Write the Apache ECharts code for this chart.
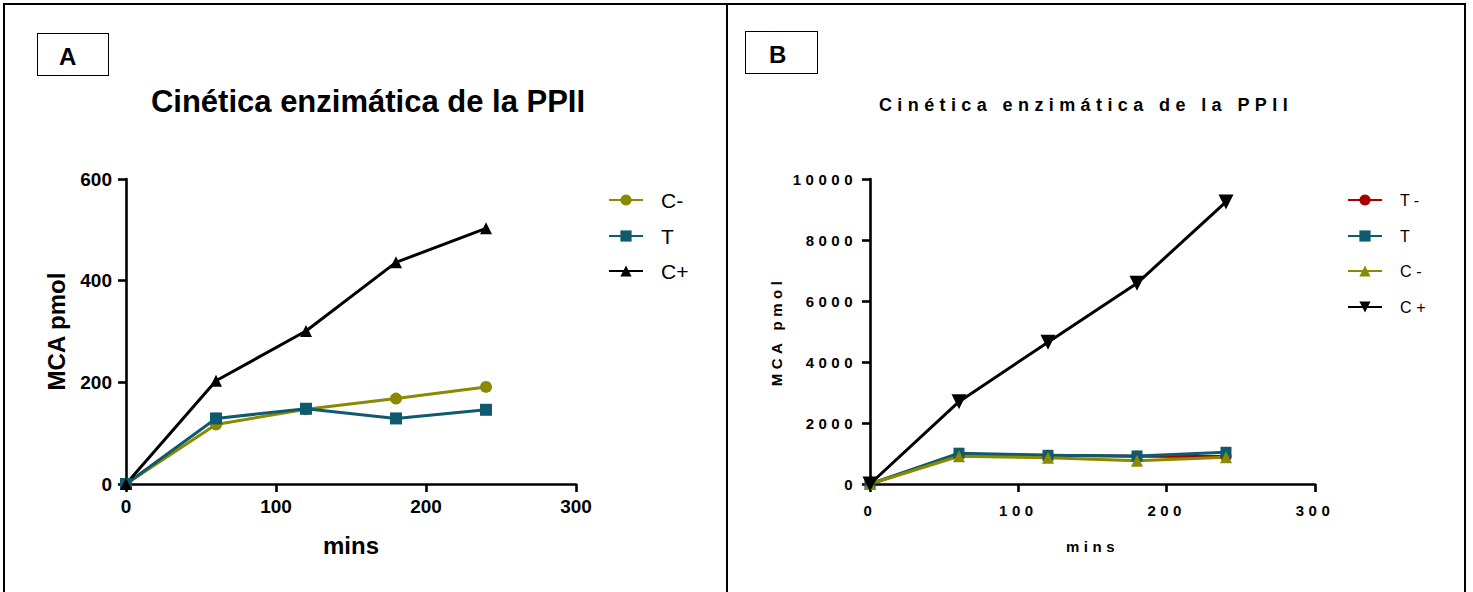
<!DOCTYPE html>
<html>
<head>
<meta charset="utf-8">
<script src="https://cdn.jsdelivr.net/npm/echarts@6/dist/echarts.min.js"></script>
<style>
  html, body { margin: 0; padding: 0; background: #fff; }
  body { width: 1473px; height: 592px; position: relative; overflow: hidden; font-family: "Liberation Sans", Arial, sans-serif; }
  .frame { position: absolute; left: 3px; top: 3px; width: 1463px; height: 620px;
           border: 2px solid #000; box-sizing: border-box; }
  .divider { position: absolute; left: 726px; top: 3px; width: 2px; height: 600px; background: #000; }
  .tag { position: absolute; border: 1.5px solid #000; box-sizing: border-box; background: #fff;
         font-weight: bold; font-size: 24px; line-height: 1; padding: 0; }
  .tag span { position: absolute; left: 21px; top: 11px; }
  #chartA { position: absolute; left: 0; top: 0; width: 727px; height: 592px; }
  #chartB { position: absolute; left: 727px; top: 0; width: 746px; height: 592px; }
  /* panel B text is drawn with wide tracking */
  #chartB text { letter-spacing: 0.3em; }
</style>
</head>
<body>
<div id="chartA"></div>
<div id="chartB"></div>
<div class="frame"></div>
<div class="divider"></div>
<div class="tag" style="left:37px;top:33px;width:72px;height:43px;"><span>A</span></div>
<div class="tag" style="left:745px;top:31px;width:73px;height:43px;"><span style="left:23px;">B</span></div>
<script>
// time points (minutes)
const mins = [0, 60, 120, 180, 240];

// Panel A: MCA pmol
const namesA = ['C-', 'T', 'C+'];
const cNegA = [0, 117, 147, 168, 191];
const tA    = [0, 129, 148, 129, 146];
const cPosA = [0, 203, 301, 436, 503];

// Panel B: MCA pmol
const namesB = ['T-', 'T', 'C-', 'C+'];
const tNegB = [0, 960, 940, 910, 900];
const tB    = [0, 1010, 940, 920, 1040];
const cNegB = [0, 910, 860, 760, 880];
const cPosB = [0, 2700, 4650, 6580, 9250];

const OLIVE = '#8a8a00';
const TEAL = '#0f5a6e';
const RED = '#a80000';
const BLACK = '#000000';
const FONT = '"Liberation Sans", Arial, sans-serif';
const DOWN_TRI = 'path://M0,0 L12,0 L6,11 Z';

function pairs(ys) { return mins.map((x, i) => [x, ys[i]]); }

function lineSeries(name, ys, color, symbol, size) {
  return {
    name: name, type: 'line', data: pairs(ys), clip: false,
    symbol: symbol, symbolSize: size,
    lineStyle: { color: color, width: 3 },
    itemStyle: { color: color, borderWidth: 0 },
    emphasis: { disabled: true }, animation: false
  };
}

function axisBase(fontSize, weight) {
  return {
    axisLine: { lineStyle: { color: '#000', width: 2.6 } },
    axisTick: { show: true, inside: false, length: 8, lineStyle: { color: '#000', width: 2.6 } },
    splitLine: { show: false },
    axisLabel: { color: '#000', fontSize: fontSize, fontWeight: weight, fontFamily: FONT,
                 formatter: v => String(v) }
  };
}

function legendAt(name, left, centerY, h, textSize, itemH) {
  return {
    data: [name], orient: 'vertical', left: left, top: centerY - h / 2,
    itemWidth: 34, itemHeight: itemH, selectedMode: false, padding: 0,
    textStyle: { color: '#000', fontSize: textSize, fontFamily: FONT, lineHeight: h, padding: [0, 0, 0, 13] }
  };
}

// ---------- Panel A ----------
const chartA = echarts.init(document.getElementById('chartA'), null, { renderer: 'svg' });
const xA = Object.assign(axisBase(19, 'bold'), {
  type: 'value', min: 0, max: 300, interval: 100,
  name: 'mins', nameLocation: 'middle', nameGap: 49,
  nameTextStyle: { color: '#000', fontSize: 24, fontWeight: 'bold', fontFamily: FONT }
});
xA.axisLabel.margin = 13;
const yA = Object.assign(axisBase(19, 'bold'), {
  type: 'value', min: 0, max: 600, interval: 200,
  name: 'MCA pmol', nameLocation: 'middle', nameGap: 58,
  nameTextStyle: { color: '#000', fontSize: 24, fontWeight: 'bold', fontFamily: FONT }
});
yA.axisLabel.margin = 14;
chartA.setOption({
  animation: false,
  title: {
    text: 'Cinética enzimática de la PPII', left: 363, top: 81, textAlign: 'center',
    textStyle: { color: '#000', fontSize: 31, fontWeight: 'bold', fontFamily: FONT }
  },
  grid: { left: 126, top: 179, width: 450, height: 305 },
  xAxis: xA, yAxis: yA,
  legend: [
    legendAt(namesA[0], 608, 200, 22, 21, 14),
    legendAt(namesA[1], 608, 236, 22, 21, 14),
    legendAt(namesA[2], 608, 271, 22, 21, 14)
  ],
  series: [
    lineSeries(namesA[0], cNegA, OLIVE, 'circle', 12),
    lineSeries(namesA[1], tA, TEAL, 'rect', 12),
    lineSeries(namesA[2], cPosA, BLACK, 'triangle', 12)
  ]
});

// ---------- Panel B ----------
const chartB = echarts.init(document.getElementById('chartB'), null, { renderer: 'svg' });
const xB = Object.assign(axisBase(15, 'bold'), {
  type: 'value', min: 0, max: 300, interval: 100,
  name: 'mins', nameLocation: 'middle', nameGap: 55,
  nameTextStyle: { color: '#000', fontSize: 15, fontWeight: 'bold', fontFamily: FONT }
});
xB.axisLabel.margin = 19;
const yB = Object.assign(axisBase(15, 'bold'), {
  type: 'value', min: 0, max: 10000, interval: 2000,
  name: 'MCA pmol', nameLocation: 'middle', nameGap: 86,
  nameTextStyle: { color: '#000', fontSize: 15, fontWeight: 'bold', fontFamily: FONT }
});
yB.axisLabel.margin = 13;
chartB.setOption({
  animation: false,
  title: {
    text: 'Cinética enzimática de la PPII', left: 354, top: 91, textAlign: 'center',
    textStyle: { color: '#000', fontSize: 18, fontWeight: 'bold', fontFamily: FONT }
  },
  grid: { left: 143, top: 179, width: 445, height: 305 },
  xAxis: xB, yAxis: yB,
  legend: [
    legendAt(namesB[0], 620, 200, 18, 16, 14),
    legendAt(namesB[1], 620, 236, 18, 16, 14),
    legendAt(namesB[2], 620, 271, 18, 16, 14),
    legendAt(namesB[3], 620, 307, 18, 16, 14)
  ],
  series: [
    lineSeries(namesB[0], tNegB, RED, 'circle', 11),
    lineSeries(namesB[1], tB, TEAL, 'rect', 11),
    lineSeries(namesB[2], cNegB, OLIVE, 'triangle', 12),
    lineSeries(namesB[3], cPosB, BLACK, DOWN_TRI, 15)
  ]
});
</script>
</body>
</html>
